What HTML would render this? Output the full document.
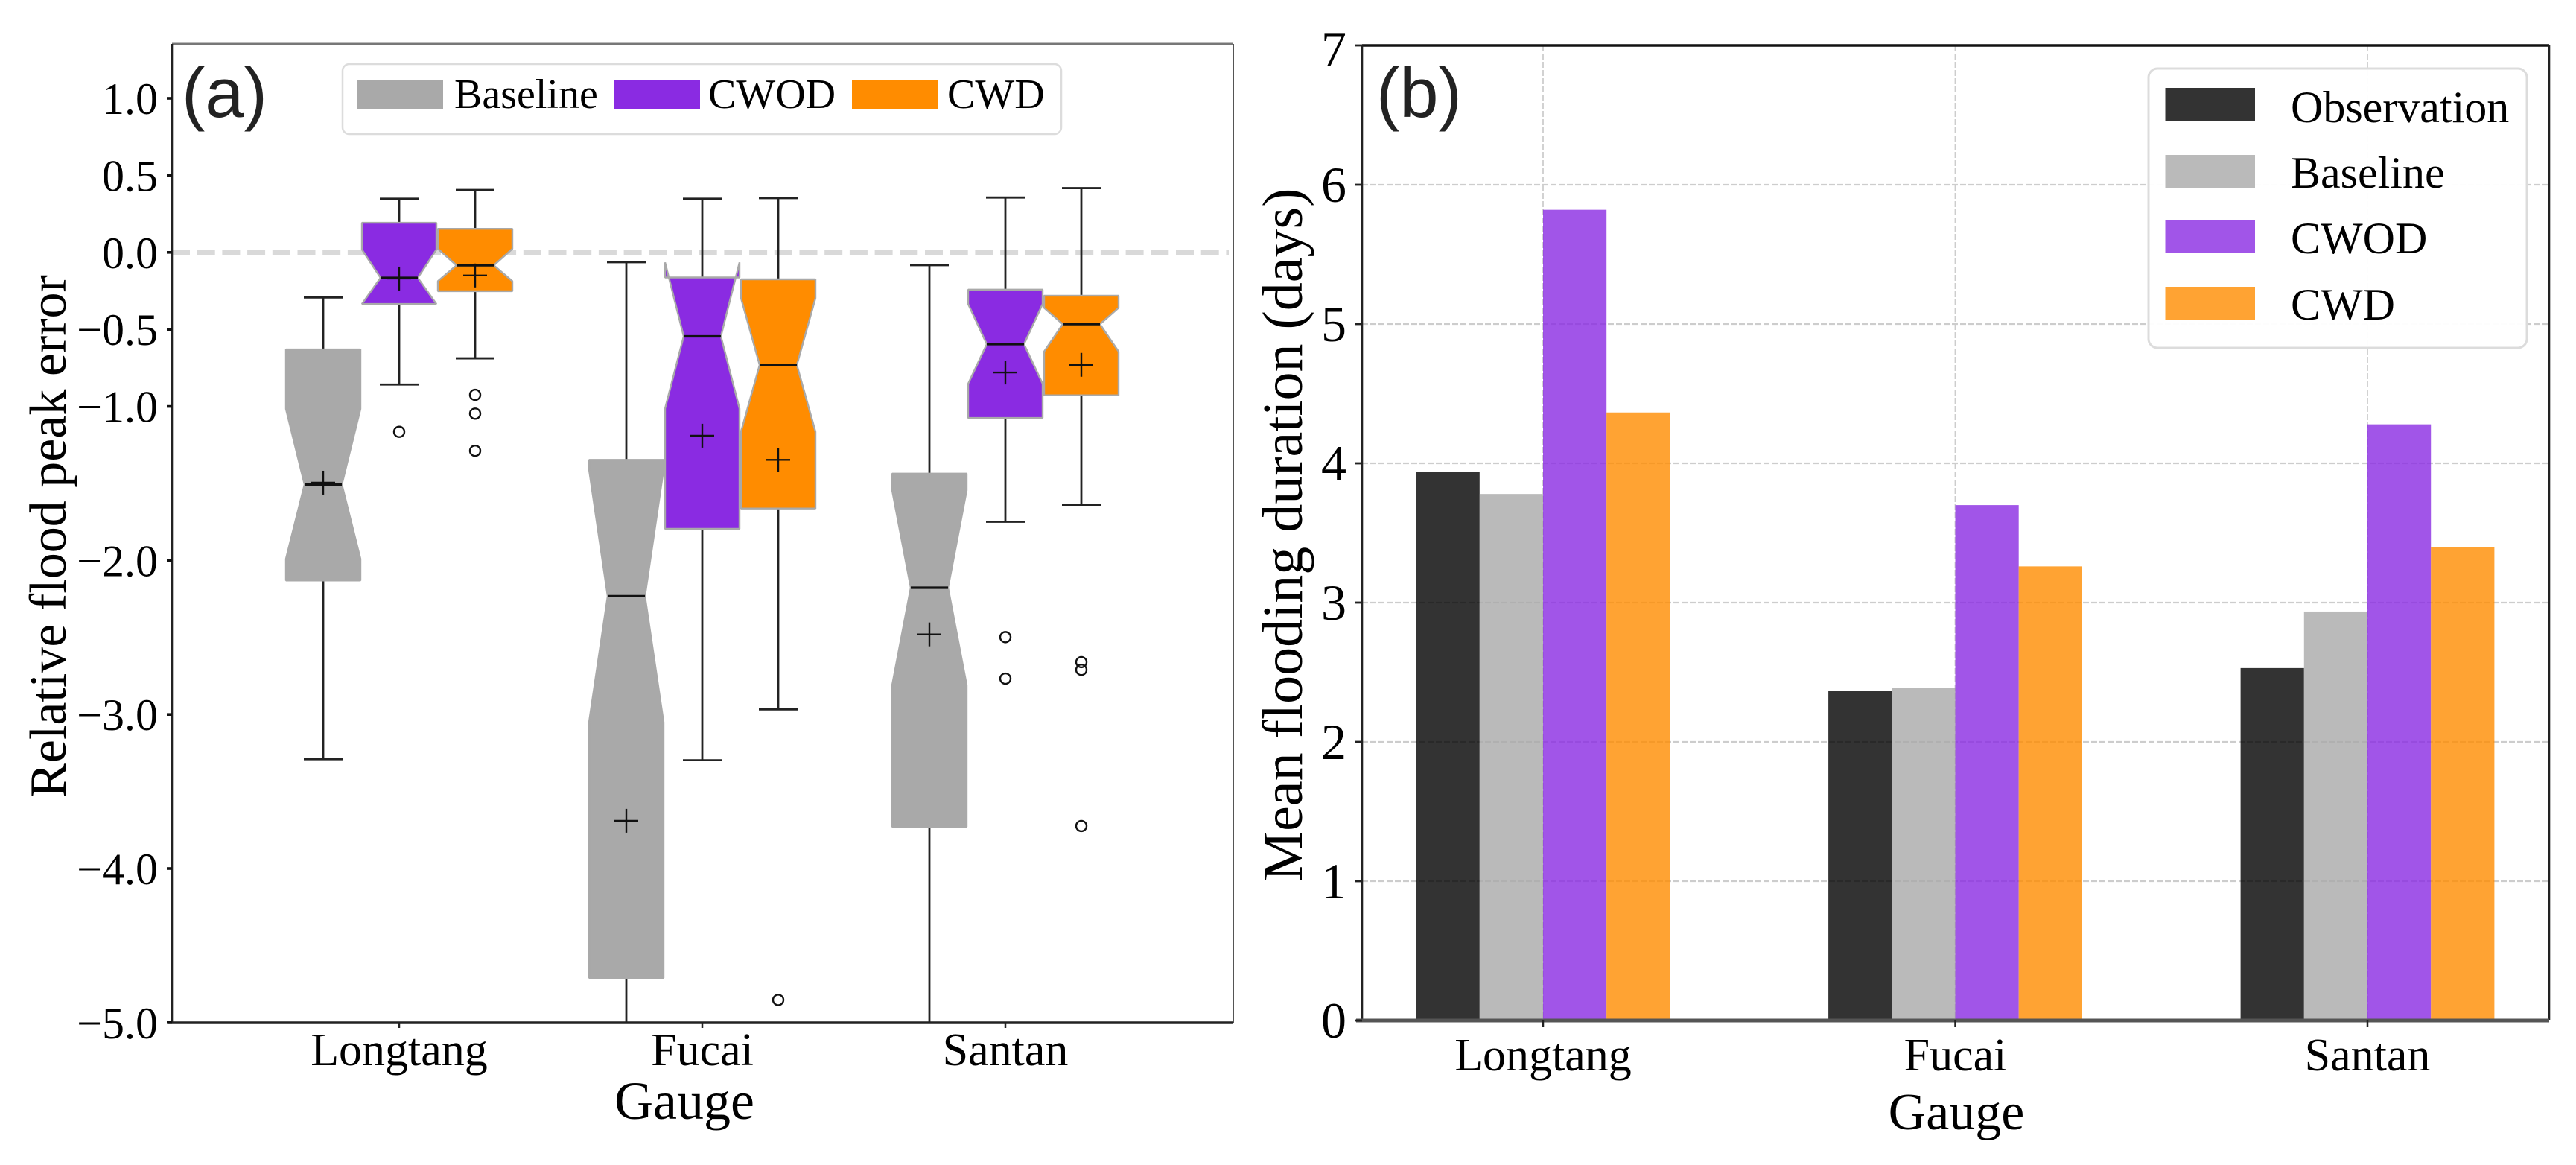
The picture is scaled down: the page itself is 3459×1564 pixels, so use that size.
<!DOCTYPE html>
<html lang="en">
<head>
<meta charset="utf-8">
<title>Flood peak error and flooding duration</title>
<style>
html,body{margin:0;padding:0;background:#fff;}
svg{display:block;}
text{font-family:"Liberation Serif",serif;fill:#000;}
</style>
</head>
<body>
<svg id="chart" xmlns="http://www.w3.org/2000/svg" width="3459" height="1564" viewBox="0 0 3459 1564">
  <defs>
    <clipPath id="clip-a"><rect x="231" y="59" width="1425" height="1314"></rect></clipPath>
  </defs>
  <rect width="3459" height="1564" fill="#fff"></rect>
  <g id="panel-a"></g>
  <g id="panel-b"></g>
</svg>
<script>
// ---------- shared ----------
const gauges = ['Longtang', 'Fucai', 'Santan'];

// ---------- panel (a) data: rows = Baseline, CWOD, CWD; columns = gauges ----------
const boxSeries = ['Baseline', 'CWOD', 'CWD'];
const boxTicks = [1.0, 0.5, 0.0, -0.5, -1.0, -2.0, -3.0, -4.0, -5.0];
const whiskerHigh = [[-0.293, -0.064, -0.083], [0.348, 0.348, 0.356], [0.405, 0.352, 0.417]];
const q3Values = [[-0.63, -1.347, -1.436], [0.192, -0.163, -0.242], [0.153, -0.175, -0.281]];
const notchHigh = [[-1.016, -1.41, -1.544], [0.018, -0.065, -0.335], [0.023, -0.297, -0.36]];
const medians = [[-1.507, -2.232, -2.177], [-0.165, -0.545, -0.596], [-0.084, -0.731, -0.466]];
const notchLow = [[-1.99, -3.05, -2.81], [-0.335, -1.014, -0.853], [-0.187, -1.165, -0.644]];
const q1Values = [[-2.13, -4.71, -3.729], [-0.335, -1.795, -1.075], [-0.252, -1.663, -0.928]];
const whiskerLow = [[-3.29, -5.3, -5.3], [-0.858, -3.297, -1.749], [-0.688, -2.967, -1.638]];
const means = [[-1.495, -3.69, -2.48], [-0.17, -1.19, -0.78], [-0.15, -1.347, -0.73]];
const outliers = [
  [[], [], []],
  [[-1.165], [], [-2.498, -2.767]],
  [[-0.925, -1.047, -1.288], [-4.853], [-2.66, -2.71, -3.724]]
];

// ---------- panel (b) data ----------
const barSeries = ['Observation', 'Baseline', 'CWOD', 'CWD'];
const barTicks = [0, 1, 2, 3, 4, 5, 6, 7];
const observationDays = [3.94, 2.366, 2.53];
const baselineDays = [3.78, 2.385, 2.936];
const cwodDays = [5.82, 3.70, 4.28];
const cwdDays = [4.365, 3.26, 3.40];

// ---------- helpers ----------
const NS = 'http://www.w3.org/2000/svg';
function mk(parent, tag, attrs, name, active) {
  const el = document.createElementNS(NS, tag);
  for (const k in attrs) el.setAttribute(k, attrs[k]);
  
  
  parent.appendChild(el);
  return el;
}
function label(parent, str, attrs, name) {
  const el = mk(parent, 'text', attrs, name, false);
  el.textContent = str;
  return el;
}
function fmt(v) {
  return (v < 0 ? '\u2212' : '') + Math.abs(v).toFixed(1);
}

// ---------- panel (a) ----------
const pa = document.getElementById('panel-a');
const aLeft = 231, aRight = 1656, aTop = 59, aBottom = 1373;
const yA = v => 338.8 - 206.8 * v;
const xA = i => 536 + 407 * i;
const boxOffset = [-102, 0, 102];
const boxColor = ['#a9a9a9', '#8a2be2', '#ff8c00'];
const halfBox = 50, halfWaist = 25, halfCap = 26, halfMark = 16;

mk(pa, 'line', {x1: aLeft, x2: 1650, y1: yA(0), y2: yA(0), stroke: '#d9d9d9', 'stroke-width': 7, 'stroke-dasharray': '24 9.7'}, 'zero-reference-line', false);

const clipA = mk(pa, 'g', {'clip-path': 'url(#clip-a)'}, 'box-plots', false);
gauges.forEach((g, gi) => {
  boxSeries.forEach((s, si) => {
    const cx = xA(gi) + boxOffset[si];
    const key = g.toLowerCase() + '-' + s.toLowerCase();
    const box = mk(clipA, 'g', {}, 'box-' + key, false);
    const hi = yA(whiskerHigh[si][gi]), lo = yA(whiskerLow[si][gi]);
    const q3 = yA(q3Values[si][gi]), q1 = yA(q1Values[si][gi]);
    const nh = yA(notchHigh[si][gi]), nl = yA(notchLow[si][gi]), med = yA(medians[si][gi]);
    const wk = {stroke: '#222', 'stroke-width': 2.8};
    mk(box, 'line', Object.assign({x1: cx, x2: cx, y1: hi, y2: q3}, wk), 'upper-whisker', false);
    mk(box, 'line', Object.assign({x1: cx, x2: cx, y1: q1, y2: lo}, wk), 'lower-whisker', false);
    mk(box, 'line', Object.assign({x1: cx - halfCap, x2: cx + halfCap, y1: hi, y2: hi}, wk), 'upper-cap', false);
    mk(box, 'line', Object.assign({x1: cx - halfCap, x2: cx + halfCap, y1: lo, y2: lo}, wk), 'lower-cap', false);
    const pts = [
      [cx - halfBox, q1], [cx - halfBox, nl], [cx - halfWaist, med], [cx - halfBox, nh], [cx - halfBox, q3],
      [cx + halfBox, q3], [cx + halfBox, nh], [cx + halfWaist, med], [cx + halfBox, nl], [cx + halfBox, q1]
    ].map(p => p.join(',')).join(' ');
    mk(box, 'polygon', {points: pts, fill: boxColor[si], stroke: '#a9a9a9', 'stroke-width': 2.4, 'stroke-linejoin': 'bevel'}, 'notched-box', false);
    mk(box, 'line', {x1: cx - halfWaist, x2: cx + halfWaist, y1: med, y2: med, stroke: '#111', 'stroke-width': 3.2}, 'median-line', false);
    const m = yA(means[si][gi]);
    mk(box, 'line', {x1: cx - halfMark, x2: cx + halfMark, y1: m, y2: m, stroke: '#111', 'stroke-width': 2.4}, 'mean-marker-h', false);
    mk(box, 'line', {x1: cx, x2: cx, y1: m - halfMark, y2: m + halfMark, stroke: '#111', 'stroke-width': 2.4}, 'mean-marker-v', false);
    outliers[si][gi].forEach(v => {
      mk(box, 'circle', {cx: cx, cy: yA(v), r: 7, fill: 'none', stroke: '#111', 'stroke-width': 2.4}, 'outlier-point', false);
    });
  });
});

// axes a
mk(pa, 'line', {x1: aLeft, x2: aRight, y1: aTop, y2: aTop, stroke: '#777', 'stroke-width': 3}, 'top-spine', false);
mk(pa, 'line', {x1: aLeft, x2: aLeft, y1: aTop, y2: aBottom, stroke: '#222', 'stroke-width': 2.6}, 'left-spine', false);
mk(pa, 'line', {x1: aRight, x2: aRight, y1: aTop, y2: aBottom, stroke: '#555', 'stroke-width': 2}, 'right-spine', false);
mk(pa, 'line', {x1: aLeft - 5, x2: aRight, y1: aBottom, y2: aBottom, stroke: '#222', 'stroke-width': 3.5}, 'bottom-spine', false);
boxTicks.forEach(t => {
  const y = yA(t);
  mk(pa, 'line', {x1: aLeft - 7, x2: aLeft, y1: y, y2: y, stroke: '#111', 'stroke-width': 3.6}, 'y-tick', false);
  label(pa, fmt(t), {x: 212, y: y + 21, 'text-anchor': 'end', 'font-size': 60}, 'y-tick-label');
});
gauges.forEach((g, i) => {
  mk(pa, 'line', {x1: xA(i), x2: xA(i), y1: aBottom, y2: aBottom + 7, stroke: '#222', 'stroke-width': 2.5}, 'x-tick', false);
  label(pa, g, {x: xA(i), y: 1430, 'text-anchor': 'middle', 'font-size': 62}, 'x-tick-label');
});
label(pa, 'Gauge', {x: 919, y: 1502, 'text-anchor': 'middle', 'font-size': 72}, 'x-axis-title');
label(pa, 'Relative flood peak error', {transform: 'translate(88,720) rotate(-90)', 'text-anchor': 'middle', 'font-size': 70}, 'y-axis-title');
const aTag = label(pa, '(a)', {x: 244, y: 157, 'font-size': 94}, 'panel-label-a');
aTag.style.fontFamily = '"Liberation Sans",sans-serif';
aTag.style.fill = '#222';

// legend a
const legA = mk(pa, 'g', {}, 'legend', false);
mk(legA, 'rect', {x: 460, y: 86, width: 965, height: 94, rx: 9, fill: '#fff', 'fill-opacity': 0.9, stroke: '#dcdcdc', 'stroke-width': 2.5}, 'legend-frame', false);
const legAPatchX = [480, 825, 1144];
const legATextX = [610, 951, 1272];
boxSeries.forEach((s, i) => {
  mk(legA, 'rect', {x: legAPatchX[i], y: 107, width: 115, height: 39, fill: boxColor[i]}, 'legend-swatch-' + s.toLowerCase(), false);
  label(legA, s, {x: legATextX[i], y: 145, 'font-size': 56}, 'legend-label-' + s.toLowerCase());
});

// ---------- panel (b) ----------
const pb = document.getElementById('panel-b');
const bLeft = 1829, bRight = 3423, bTop = 61, bBottom = 1370;
const yB = v => bBottom - 187 * v;
const xB = i => 2072 + 553.5 * i;
const barValues = [observationDays, baselineDays, cwodDays, cwdDays];
const barColor = ['#000000', '#a9a9a9', '#8a2be2', '#ff8c00'];
const barW = 85.2;

barTicks.forEach(t => {
  if (t > 0 && t < 7) mk(pb, 'line', {x1: bLeft, x2: bRight, y1: yB(t), y2: yB(t), stroke: '#cdcdcd', 'stroke-width': 2.2, 'stroke-dasharray': '8 3'}, 'horizontal-gridline', false);
});
gauges.forEach((g, i) => {
  mk(pb, 'line', {x1: xB(i), x2: xB(i), y1: bTop, y2: bBottom, stroke: '#cdcdcd', 'stroke-width': 1.8, 'stroke-dasharray': '8 3'}, 'vertical-gridline', false);
});
gauges.forEach((g, gi) => {
  barSeries.forEach((s, si) => {
    const v = barValues[si][gi];
    mk(pb, 'rect', {
      x: xB(gi) + (si - 2) * barW, y: yB(v), width: barW, height: yB(0) - yB(v),
      fill: barColor[si], 'fill-opacity': 0.8
    }, 'bar-' + g.toLowerCase() + '-' + s.toLowerCase(), false);
  });
});

// axes b
mk(pb, 'line', {x1: bLeft, x2: bRight, y1: bTop, y2: bTop, stroke: '#111', 'stroke-width': 3.4}, 'top-spine', false);
mk(pb, 'line', {x1: bLeft, x2: bLeft, y1: bTop, y2: bBottom, stroke: '#222', 'stroke-width': 2.6}, 'left-spine', false);
mk(pb, 'line', {x1: bRight, x2: bRight, y1: bTop, y2: bBottom, stroke: '#222', 'stroke-width': 2.6}, 'right-spine', false);
mk(pb, 'line', {x1: bLeft - 8, x2: bRight, y1: bBottom, y2: bBottom, stroke: '#555', 'stroke-width': 5}, 'bottom-spine', false);
barTicks.forEach(t => {
  const y = yB(t);
  mk(pb, 'line', {x1: bLeft - 9, x2: bLeft, y1: y, y2: y, stroke: '#222', 'stroke-width': 2.8}, 'y-tick', false);
  label(pb, String(t), {x: 1808, y: y + (t === 7 ? 28 : 23), 'text-anchor': 'end', 'font-size': 68}, 'y-tick-label');
});
gauges.forEach((g, i) => {
  mk(pb, 'line', {x1: xB(i), x2: xB(i), y1: bBottom, y2: bBottom + 9, stroke: '#222', 'stroke-width': 2.5}, 'x-tick', false);
  label(pb, g, {x: xB(i), y: 1437, 'text-anchor': 'middle', 'font-size': 62}, 'x-tick-label');
});
label(pb, 'Gauge', {x: 2627, y: 1516, 'text-anchor': 'middle', 'font-size': 70}, 'x-axis-title');
label(pb, 'Mean flooding duration (days)', {transform: 'translate(1748,718) rotate(-90)', 'text-anchor': 'middle', 'font-size': 76}, 'y-axis-title');
const bTag = label(pb, '(b)', {x: 1848, y: 157, 'font-size': 94}, 'panel-label-b');
bTag.style.fontFamily = '"Liberation Sans",sans-serif';
bTag.style.fill = '#222';

// legend b
const legB = mk(pb, 'g', {}, 'legend', false);
mk(legB, 'rect', {x: 2885, y: 92, width: 508, height: 375, rx: 12, fill: '#fff', 'fill-opacity': 0.95, stroke: '#dcdcdc', 'stroke-width': 3}, 'legend-frame', false);
const legBTop = [118, 208, 295, 385];
const legBBase = [164, 252, 340, 429];
barSeries.forEach((s, i) => {
  mk(legB, 'rect', {x: 2907.5, y: legBTop[i], width: 120.5, height: 45, fill: barColor[i], 'fill-opacity': 0.8}, 'legend-swatch-' + s.toLowerCase(), false);
  label(legB, s, {x: 3076, y: legBBase[i], 'font-size': 60}, 'legend-label-' + s.toLowerCase());
});
</script>
</body>
</html>
